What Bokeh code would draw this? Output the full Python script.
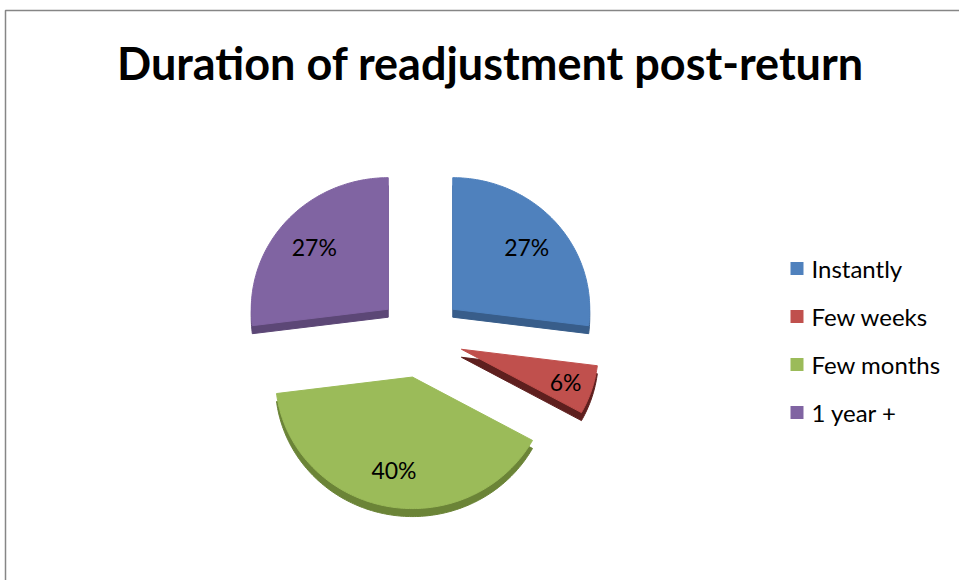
import math
from bokeh.plotting import figure
from bokeh.models import Range1d
from bokeh.core.properties import value
from bokeh.embed import file_html
from bokeh.resources import INLINE

# ---- data ----
title = "Duration of readjustment post-return"
categories = ["Instantly", "Few weeks", "Few months", "1 year +"]
values = [27, 6, 40, 27]
labels = ["27%", "6%", "40%", "27%"]
colors = ["#4F81BD", "#C0504D", "#9BBB59", "#8064A2"]
side_colors = ["#385D8A", "#5E1F1E", "#6B8437", "#5C4776"]

FONT = "Lato"
W, H = 959, 580
p = figure(width=W, height=H, x_range=Range1d(0, W), y_range=Range1d(H, 0),
           output_backend="svg", toolbar_location=None, min_border=0,
           x_axis_location=None, y_axis_location=None)
p.grid.visible = False
p.outline_line_color = None
p.background_fill_color = "white"
p.border_fill_color = "white"

# chart border
p.quad(left=5, right=W + 10, top=10, bottom=H + 10, fill_color=None,
       line_color="#868686", line_width=1.5)

# title
p.text(x=[490], y=[62], text=[title], text_font=value(FONT), text_font_style="bold",
       text_font_size="45px", text_align="center", text_baseline="middle",
       text_color="black")

# pie geometry
cx, cy = 420, 336
r = 137
k = 0.96
explode = 43
t = 8
total = float(sum(values))

side_xs, side_ys, top_xs, top_ys = [], [], [], []
lx, ly = [], []
start = 0.0
for v in values:
    a0 = start / total * 2 * math.pi
    a1 = (start + v) / total * 2 * math.pi
    mid = (a0 + a1) / 2
    start += v
    ax = cx + explode * math.sin(mid)
    ay = cy - explode * math.cos(mid) * k
    n = max(4, int(math.degrees(a1 - a0)))
    xs = [ax]
    ys = [ay]
    for j in range(n + 1):
        a = a0 + (a1 - a0) * j / n
        xs.append(ax + r * math.sin(a))
        ys.append(ay - r * math.cos(a) * k)
    top_xs.append(xs)
    top_ys.append(ys)
    side_xs.append(xs)
    side_ys.append([y + t for y in ys])
    lr = (0.72 if v >= 10 else 0.8) * r
    lx.append(ax + lr * math.sin(mid))
    ly.append(ay - lr * math.cos(mid) * k)

p.patches(xs=side_xs, ys=side_ys, fill_color=side_colors, line_color=side_colors, line_width=1)
p.patches(xs=top_xs, ys=top_ys, fill_color=colors, line_color=colors, line_width=1)

p.text(x=lx, y=ly, text=labels, text_font=value(FONT), text_font_size="23px",
       text_align="center", text_baseline="middle", text_color="black")

# legend
leg_x = 790
leg_y0 = 268
leg_dy = 48
ly_leg = [leg_y0 + leg_dy * i for i in range(len(categories))]
p.rect(x=[leg_x + 6.5] * len(categories), y=ly_leg, width=13, height=13,
       fill_color=colors, line_color=None)
p.text(x=[leg_x + 21] * len(categories), y=ly_leg, text=categories,
       text_font=value(FONT), text_font_size="24px", text_align="left",
       text_baseline="middle", text_color="black")

open("out.html", "w").write(file_html(p, INLINE))
